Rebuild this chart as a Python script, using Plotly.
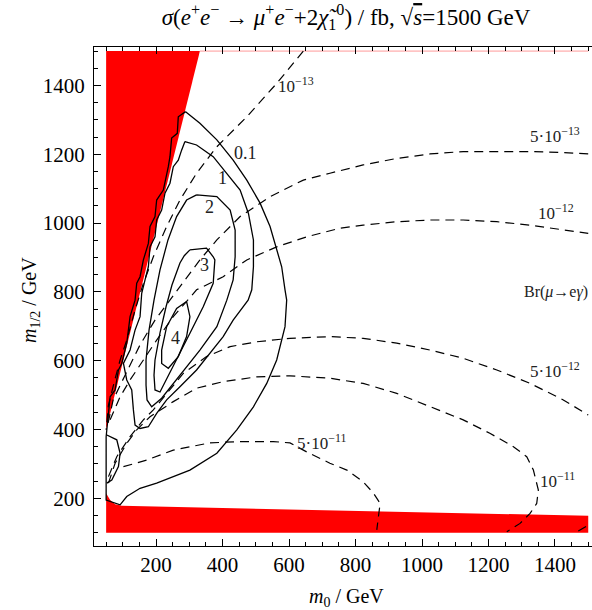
import plotly.graph_objects as go

# ---------------- data (GeV) ----------------
M0_RANGE = [13.5, 1511.3]
M12_RANGE = [61.3, 1511.9]
tick_vals = [200, 400, 600, 800, 1000, 1200, 1400]

# excluded regions (red)
excl_wedge_m0 = [50, 332, 50]
excl_wedge_m12 = [1500, 1500, 400]
excl_band_m0 = [50, 1500, 1500, 97, 77, 62, 50]
excl_band_m12 = [100, 100, 149, 178, 183, 195, 215]
edge_top_m0 = [332, 1500]
edge_top_m12 = [1500, 1500]

# cross-section contours (fb), solid
xs01_m0 = [289, 332, 383, 432, 473, 513, 543, 558, 578, 588, 593, 588, 563, 533, 493, 443, 383, 302, 202, 152, 112, 92,
           50, 50, 57, 62, 77, 87, 97, 112, 122, 137, 142, 152, 162, 177, 182, 197, 202, 222, 237, 242, 247, 264, 267, 289]
xs01_m12 = [1324, 1290, 1242, 1183, 1125, 1058, 990, 941, 873, 806, 776, 699, 602, 534, 466, 399, 331, 282, 244, 229, 205, 181,
            195, 379, 437, 495, 515, 573, 592, 651, 728, 776, 825, 844, 893, 941, 990, 1019, 1067, 1096, 1164, 1193, 1247, 1261, 1309, 1324]
xs1_m0 = [287, 322, 372, 413, 453, 478, 493, 493, 488, 477, 432, 402, 362, 322, 272, 232, 202, 177, 152, 137,
          132, 127, 112, 102, 122, 137, 152, 157, 167, 177, 182, 197, 202, 217, 227, 242, 252, 267, 277, 287]
xs1_m12 = [1237, 1227, 1193, 1145, 1096, 1028, 951, 873, 806, 776, 718, 670, 622, 573, 524, 486, 447, 408, 403, 413,
           457, 515, 544, 592, 631, 689, 728, 796, 835, 873, 931, 960, 1009, 1038, 1087, 1116, 1164, 1183, 1212, 1237]
xs2_m0 = [322, 383, 423, 438, 438, 432, 413, 383, 332, 292, 252, 217, 187, 173, 170, 170, 179, 194, 212, 236, 262, 292, 322]
xs2_m12 = [1082, 1077, 1038, 980, 902, 835, 776, 699, 631, 583, 534, 491, 466, 486, 529, 602, 689, 776, 864, 951, 1019, 1067, 1082]
xs3_m0 = [302, 352, 372, 377, 372, 342, 302, 262, 232, 212, 197, 194, 197, 212, 230, 248, 272, 285, 302]
xs3_m12 = [922, 927, 902, 893, 825, 757, 680, 602, 544, 509, 515, 558, 602, 681, 756, 820, 884, 905, 922]
xs4_m0 = [292, 302, 292, 267, 237, 217, 217, 232, 262, 292]
xs4_m12 = [772, 728, 670, 612, 578, 592, 631, 699, 752, 772]
xs_island_m0 = [52, 82, 92, 87, 67, 52]
xs_island_m12 = [384, 370, 331, 292, 253, 244]

xs_labels = ["0.1", "1", "2", "3", "4"]
xs_label_m0 = [468, 401, 362, 347, 260]
xs_label_m12 = [1204, 1130, 1048, 878, 665]

# Br(mu -> e gamma) contours, dashed
br_1e13_m0 = [643, 563, 473, 383, 322, 272, 232, 192, 162, 137, 112, 92, 72, 57, 50]
br_1e13_m12 = [1500, 1406, 1309, 1222, 1145, 1067, 990, 902, 825, 747, 660, 602, 529, 471, 399]
br_5e13_m0 = [56, 71, 107, 152, 197, 242, 282, 332, 383, 453, 543, 643, 723, 823, 924, 1024, 1124, 1225, 1325, 1425, 1500]
br_5e13_m12 = [419, 486, 558, 646, 718, 776, 825, 893, 951, 1019, 1077, 1125, 1145, 1169, 1188, 1201, 1208, 1208, 1208, 1205, 1201]
br_1e12_m0 = [62, 92, 122, 162, 202, 252, 322, 402, 473, 563, 653, 753, 823, 924, 1024, 1124, 1225, 1325, 1425, 1500]
br_1e12_m12 = [428, 495, 544, 602, 660, 728, 806, 844, 893, 931, 960, 985, 994, 1004, 1009, 1009, 1004, 994, 980, 970]
br_5e12_m0 = [57, 82, 122, 162, 192, 232, 282, 352, 423, 503, 603, 723, 823, 924, 1024, 1124, 1225, 1325, 1425, 1500]
br_5e12_m12 = [263, 321, 379, 428, 457, 505, 563, 612, 641, 655, 665, 670, 665, 651, 631, 607, 573, 534, 486, 442]
br_1e11_m0 = [57, 77, 112, 142, 182, 252, 322, 402, 503, 603, 723, 823, 924, 1024, 1124, 1204, 1275, 1315, 1335, 1350, 1345, 1325, 1295, 1255]
br_1e11_m12 = [244, 302, 360, 399, 437, 481, 520, 539, 553, 556, 549, 534, 505, 466, 428, 389, 350, 321, 282, 224, 185, 156, 127, 103]
br_1e11b_m0 = [1470, 1500]
br_1e11b_m12 = [105, 122]
br_5e11_m0 = [102, 172, 252, 362, 453, 553, 603, 653, 723, 774, 823, 854, 874, 869, 864]
br_5e11_m12 = [292, 311, 340, 361, 365, 365, 361, 335, 302, 282, 248, 215, 185, 147, 108]

br_labels = ["10<sup>\u221213</sup>", "5\u00b710<sup>\u221213</sup>", "10<sup>\u221212</sup>",
             "5\u00b710<sup>\u221212</sup>", "10<sup>\u221211</sup>", "5\u00b710<sup>\u221211</sup>"]
br_label_m0 = [620, 1400, 1403, 1400, 1409, 699]
br_label_m12 = [1401, 1256, 1032, 573, 253, 364]
br_name_m0 = 1505
br_name_m12 = 800

# ---------------- figure ----------------
FONT = "Liberation Serif, Times New Roman, serif"
RED = "#ff0000"
W, H = 592, 610
L, R, T, B = 94, 0, 47, 64

fig = go.Figure()

for xs, ys in [(excl_wedge_m0, excl_wedge_m12), (excl_band_m0, excl_band_m12)]:
    fig.add_trace(go.Scatter(x=xs, y=ys, mode="lines", fill="toself", fillcolor=RED,
                             line=dict(width=0, color=RED), hoverinfo="skip", showlegend=False))
fig.add_trace(go.Scatter(x=edge_top_m0, y=edge_top_m12, mode="lines",
                         line=dict(width=1, color="#ff9a9a"), hoverinfo="skip", showlegend=False))

solid = [(xs01_m0, xs01_m12), (xs1_m0, xs1_m12), (xs2_m0, xs2_m12), (xs3_m0, xs3_m12),
         (xs4_m0, xs4_m12), (xs_island_m0, xs_island_m12)]
for xs, ys in solid:
    fig.add_trace(go.Scatter(x=xs, y=ys, mode="lines", line=dict(width=1.3, color="black"),
                             hoverinfo="skip", showlegend=False))

dashed = [(br_1e13_m0, br_1e13_m12), (br_5e13_m0, br_5e13_m12), (br_1e12_m0, br_1e12_m12),
          (br_5e12_m0, br_5e12_m12), (br_1e11_m0, br_1e11_m12), (br_1e11b_m0, br_1e11b_m12),
          (br_5e11_m0, br_5e11_m12)]
for xs, ys in dashed:
    fig.add_trace(go.Scatter(x=xs, y=ys, mode="lines",
                             line=dict(width=1.2, color="black", dash="9px,6px"),
                             hoverinfo="skip", showlegend=False))

annotations = []
for t, x, y in zip(xs_labels, xs_label_m0, xs_label_m12):
    annotations.append(dict(x=x, y=y, text=t, showarrow=False, xref="x", yref="y",
                            font=dict(family=FONT, size=18, color="#222")))
for t, x, y in zip(br_labels, br_label_m0, br_label_m12):
    annotations.append(dict(x=x, y=y, text=t, showarrow=False, xref="x", yref="y",
                            font=dict(family=FONT, size=17, color="#222")))
annotations.append(dict(x=br_name_m0, y=br_name_m12, text="Br(<i>\u03bc</i>\u2192e<i>\u03b3</i>)",
                        showarrow=False, xref="x", yref="y", xanchor="right",
                        font=dict(family=FONT, size=16, color="#222")))

ph = H - T - B
pw = W - L - R
annotations.append(dict(x=(346 - L) / pw, y=(H - B - 597) / ph, xref="paper", yref="paper",
                        showarrow=False, text="<i>m</i><sub>0</sub> / GeV",
                        font=dict(family=FONT, size=20, color="black"),
                        xanchor="center", yanchor="middle"))
annotations.append(dict(x=(30 - L) / pw, y=(H - B - 300) / ph, xref="paper", yref="paper",
                        showarrow=False, text="<i>m</i><sub>1/2</sub> / GeV", textangle=-90,
                        font=dict(family=FONT, size=20, color="black"),
                        xanchor="center", yanchor="middle"))

title_text = ("<i>\u03c3</i>(<i>e</i><sup>+</sup><i>e</i><sup>\u2212</sup> \u2192 <i>\u03bc</i><sup>+</sup>"
              "<i>e</i><sup>\u2212</sup>+2<i>\u03c7\u0303</i><sub>1</sub><sup>0</sup>) / fb, "
              "\u221a<span style='text-decoration:overline'><i>s</i></span>=1500 GeV")

fig.update_layout(
    width=W, height=H,
    margin=dict(l=L, r=R, t=T, b=B, autoexpand=False),
    paper_bgcolor="white", plot_bgcolor="white",
    showlegend=False,
    annotations=annotations,
    font=dict(family=FONT, size=20, color="black"),
    title=dict(text=title_text, x=346 / W, xref="container", xanchor="center",
               y=1 - 17 / H, yref="container", yanchor="middle",
               font=dict(family=FONT, size=23, color="black")),
)
fig.update_xaxes(
    range=M0_RANGE, tickvals=tick_vals, ticks="inside", ticklen=7, tickcolor="black",
    showline=True, linecolor="black", linewidth=1, mirror="allticks",
    showgrid=False, zeroline=False, automargin=False,
    tickfont=dict(family=FONT, size=21, color="black"),
    minor=dict(dtick=50, tick0=0, ticks="inside", ticklen=4, tickcolor="black", showgrid=False),
)
fig.update_yaxes(
    range=M12_RANGE, tickvals=tick_vals, ticks="inside", ticklen=7, tickcolor="black",
    showline=True, linecolor="black", linewidth=1, mirror=False,
    showgrid=False, zeroline=False, automargin=False, ticklabelstandoff=4,
    tickfont=dict(family=FONT, size=21, color="black"),
    minor=dict(dtick=50, tick0=0, ticks="inside", ticklen=4, tickcolor="black", showgrid=False),
)

fig.write_html("out.html", config={"displayModeBar": False},
               post_script="document.body.style.margin='0';document.body.style.overflow='hidden';")
